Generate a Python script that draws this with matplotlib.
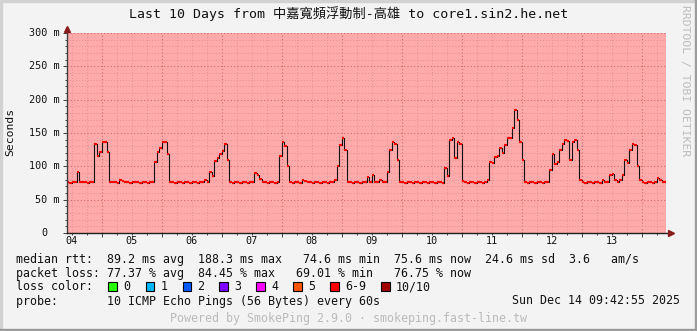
import matplotlib
matplotlib.use('Agg')
import matplotlib.pyplot as plt
from matplotlib.patches import Rectangle
import matplotlib.transforms as mtransforms
import numpy as np

W, H = 697, 331
plt.rcParams['font.family'] = ['DejaVu Sans Mono', 'Noto Sans CJK TC']

# ---------------- data ----------------
title = "Last 10 Days from 中嘉寬頻浮動制-高雄 to core1.sin2.he.net"
start_hour = 10          # hours since Dec 04 00:00
step_hours = 1
median_rtt_ms = [
    # Dec 04 10:00 - 23:00
    76, 75, 77, 76, 92, 77, 76, 77, 75, 76, 77, 134, 115, 121,
    # Dec 05
    137, 136, 122, 77, 76, 77, 75, 80, 78, 77, 76, 75, 76, 77, 76, 75, 77, 76, 75, 77, 76, 106, 122, 127,
    # Dec 06
    137, 136, 118, 77, 76, 75, 77, 76, 75, 77, 76, 75, 77, 76, 75, 77, 76, 79, 76, 92, 86, 108, 112, 119,
    # Dec 07
    123, 134, 110, 76, 75, 77, 76, 75, 77, 76, 75, 76, 77, 90, 87, 81, 76, 77, 75, 76, 77, 75, 77, 115,
    # Dec 08
    137, 130, 100, 76, 75, 77, 76, 75, 80, 78, 76, 77, 75, 76, 77, 75, 76, 77, 75, 76, 77, 79, 100, 132,
    # Dec 09
    143, 125, 77, 76, 75, 77, 76, 75, 76, 77, 84, 77, 87, 76, 77, 80, 76, 76, 92, 125, 136, 134, 110, 77,
    # Dec 10
    76, 75, 77, 76, 75, 77, 76, 75, 76, 77, 75, 76, 77, 75, 76, 77, 75, 97, 85, 139, 142, 112, 137, 134,
    # Dec 11
    78, 76, 75, 77, 76, 75, 77, 76, 75, 76, 79, 107, 105, 114, 116, 127, 120, 132, 142, 142, 157, 185, 170, 137,
    # Dec 12
    110, 76, 75, 77, 76, 75, 77, 76, 75, 76, 77, 94, 119, 104, 107, 125, 134, 140, 138, 110, 137, 140, 125, 80,
    # Dec 13
    76, 75, 77, 76, 75, 77, 76, 75, 79, 76, 77, 87, 88, 80, 77, 80, 87, 110, 105, 125, 134, 132, 100, 80,
    # Dec 14 00:00 - 09:00
    76, 75, 77, 76, 75, 76, 82, 80, 76, 76,
]

day_labels = ['04', '05', '06', '07', '08', '09', '10', '11', '12', '13']
day_label_hours = [12, 36, 60, 84, 108, 132, 156, 180, 204, 228]
midnight_hours = [24, 48, 72, 96, 120, 144, 168, 192, 216, 240]
six_hour_marks = [12, 18, 30, 36, 42, 54, 60, 66, 78, 84, 90, 102, 108, 114, 126, 132, 138,
                  150, 156, 162, 174, 180, 186, 198, 204, 210, 222, 228, 234, 246]
x_range_hours = [10.12, 249.72]

y_ticks_ms = [0, 50, 100, 150, 200, 250, 300]
y_minor_ms = list(range(0, 301, 10))
y_tick_labels = ['0', '50 m', '100 m', '150 m', '200 m', '250 m', '300 m']

stats_rtt = "median rtt:  89.2 ms avg  188.3 ms max   74.6 ms min  75.6 ms now  24.6 ms sd  3.6   am/s"
stats_loss = "packet loss: 77.37 % avg  84.45 % max   69.01 % min   76.75 % now"
loss_labels = ['0', '1', '2', '3', '4', '5', '6-9', '10/10']
loss_colors = ['#26ff00', '#00b8ff', '#0059ff', '#7e00ff', '#ff00ff', '#ff5500', '#ff0000', '#a10000']
probe_text = "probe:       10 ICMP Echo Pings (56 Bytes) every 60s"
date_text = "Sun Dec 14 09:42:55 2025"
footer_text = "Powered by SmokePing 2.9.0 · smokeping.fast-line.tw"
watermark = "RRDTOOL / TOBI OETIKER"

# ---------------- figure ----------------
fig = plt.figure(figsize=(W / 100, H / 100), dpi=100, facecolor='#F3F3F3')

def fx(x):
    return x / W

def fy(y):
    return 1 - y / H

# frame shading
fig.patches.append(Rectangle((0, 1 - 2 / H), 1, 2 / H, transform=fig.transFigure, color='#D2D2D2'))
fig.patches.append(Rectangle((0, 0), 2 / W, 1, transform=fig.transFigure, color='#D2D2D2'))
fig.patches.append(Rectangle((0, 0), 1, 2 / H, transform=fig.transFigure, color='#9C9C9C'))
fig.patches.append(Rectangle((1 - 2 / W, 0), 2 / W, 1, transform=fig.transFigure, color='#9C9C9C'))

ax = fig.add_axes([fx(67), fy(233), 599 / W, 200 / H])
ax.set_facecolor('#FFAAAA')
for s in ax.spines.values():
    s.set_visible(False)

ax.set_xticks(midnight_hours)
ax.set_xticks(six_hour_marks, minor=True)
ax.set_yticks(y_ticks_ms)
ax.set_yticks(y_minor_ms, minor=True)
ax.set_xlim(*x_range_hours)
ax.set_ylim(0, 300)
ax.tick_params(axis='both', which='both', labelleft=False, labelbottom=False,
               direction='out', color='#404040', width=0.7)
ax.tick_params(axis='both', which='major', length=3)
ax.tick_params(axis='both', which='minor', length=1.5)

ax.grid(which='minor', color='#E58E8E', linestyle=(0, (1, 2)), linewidth=0.7)
ax.grid(which='major', color='#D06A6A', linestyle=(0, (1, 2)), linewidth=0.8)
ax.set_axisbelow(True)

# data
t = start_hour + np.arange(len(median_rtt_ms)) * step_hours
v = np.array(median_rtt_ms, dtype=float)
t_ext = np.append(t, t[-1] + step_hours)
v_ext = np.append(v, v[-1])
ax.step(t_ext, v_ext, where='post', color='#111111', lw=0.8, zorder=3)
ax.hlines(v, t, t + step_hours, colors='#FF0000', lw=1.5, zorder=4)
ax.set_xlim(*x_range_hours)

# axes lines with arrows
ax.plot([0, 0], [0, 1 + 4 / 200], transform=ax.transAxes, color='#404040', lw=1, clip_on=False, zorder=5)
ax.plot([0, 1 + 4 / 599], [0, 0], transform=ax.transAxes, color='#202020', lw=1, clip_on=False, zorder=5)
ax.plot(0, 1 + 4.5 / 200, marker='^', ms=4, color='#8B1A1A', transform=ax.transAxes, clip_on=False, zorder=6)
ax.plot(1 + 5 / 599, 0, marker='>', ms=4, color='#8B1A1A', transform=ax.transAxes, clip_on=False, zorder=6)

# y tick labels
ylab_tr = mtransforms.blended_transform_factory(ax.transAxes, ax.transData)
for val, lab in zip(y_ticks_ms, y_tick_labels):
    right = 59.5 if lab != '0' else 47.5
    ax.text((right - 67) / 599, val, lab, transform=ylab_tr, ha='right', va='center',
            fontsize=7.3, color='#111111')

# x tick labels
xlab_tr = mtransforms.blended_transform_factory(ax.transData, fig.transFigure)
for h, lab in zip(day_label_hours, day_labels):
    ax.text(h, fy(241.5), lab, transform=xlab_tr, ha='center', va='center',
            fontsize=7.3, color='#111111')

# title, labels
fig.text(0.5, fy(14), title, ha='center', va='center', fontsize=9.5, color='#111111')
fig.text(fx(10), fy(132), 'Seconds', rotation=90, ha='center', va='center', fontsize=8.2, color='#111111')
fig.text(fx(685), fy(5), watermark, rotation=270, ha='center', va='top', fontsize=8.2, color='#BBBBBB')

# legend
LS = 8.4
fig.text(fx(16), fy(259.5), stats_rtt, ha='left', va='center', fontsize=LS, color='#111111')
fig.text(fx(16), fy(273.5), stats_loss, ha='left', va='center', fontsize=LS, color='#111111')
fig.text(fx(16), fy(287), "loss color:", ha='left', va='center', fontsize=LS, color='#111111')
box_x = [108.3, 145.5, 182.5, 219.3, 256.2, 293.3, 330.3, 381.0]
for bx, lab, col in zip(box_x, loss_labels, loss_colors):
    fig.patches.append(Rectangle((fx(bx), fy(290.5)), 8.5 / W, 8.5 / H, transform=fig.transFigure,
                                 facecolor=col, edgecolor='#000000', lw=0.8))
    fig.text(fx(bx + 15.0), fy(287), lab, ha='left', va='center', fontsize=LS, color='#111111')
fig.text(fx(16), fy(301), probe_text, ha='left', va='center', fontsize=LS, color='#111111')
fig.text(fx(680), fy(301), date_text, ha='right', va='center', fontsize=LS, color='#111111')
fig.text(0.5, fy(318.5), footer_text, ha='center', va='center', fontsize=LS, color='#BBBBBB')

fig.savefig('out.png', dpi=100, facecolor=fig.get_facecolor())
